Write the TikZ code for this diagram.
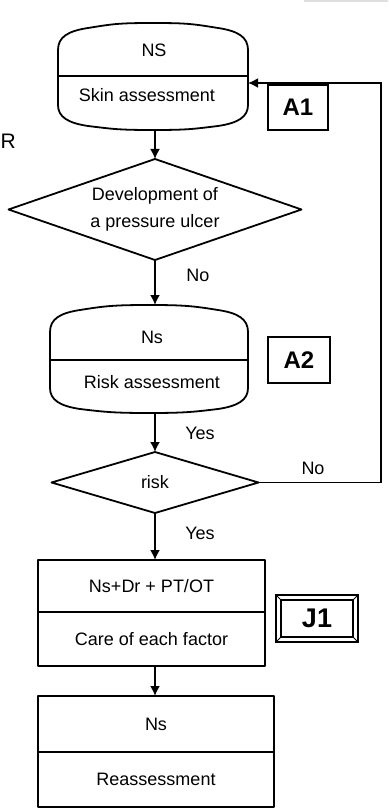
\documentclass[tikz,border=0pt]{standalone}
\usepackage{fontspec}
\setmainfont{Liberation Sans}
\usetikzlibrary{shapes.geometric,arrows.meta,calc}

% Outline of a drum-shaped step: flat sides, bulging top and bottom
\newcommand\drumoutline[1]{%
  \draw[outline]
    ($(#1.north west)+(0,27)$)
      .. controls ($(#1.north west)+(0,14)$) and ($(#1.north west)+(10,8)$) .. ($(#1.north west)+(30,5)$)
      .. controls ($(#1.north west)+(55,1)$) and ($(#1.north)+(-35,0)$) .. (#1.north)
      .. controls ($(#1.north)+(35,0)$) and ($(#1.north east)+(-55,1)$) .. ($(#1.north east)+(-30,5)$)
      .. controls ($(#1.north east)+(-10,8)$) and ($(#1.north east)+(0,14)$) .. ($(#1.north east)+(0,27)$)
    -- ($(#1.south east)+(0,-25)$)
      .. controls ($(#1.south east)+(0,-13)$) and ($(#1.south east)+(-10,-7)$) .. ($(#1.south east)+(-30,-4)$)
      .. controls ($(#1.south east)+(-55,-1)$) and ($(#1.south)+(35,0)$) .. (#1.south)
      .. controls ($(#1.south)+(-35,0)$) and ($(#1.south west)+(55,-1)$) .. ($(#1.south west)+(30,-4)$)
      .. controls ($(#1.south west)+(10,-7)$) and ($(#1.south west)+(0,-13)$) .. ($(#1.south west)+(0,-25)$)
    -- cycle;}

\tikzset{
  outline/.style={line width=1.8pt, line join=round},
  frame/.style={rectangle, inner sep=0pt, outer sep=0pt},
  txt/.style={font=\fontsize{18}{27}\selectfont, inner sep=0pt, align=center},
  decision/.style={diamond, draw, outline, inner sep=0pt, outer sep=0pt, align=center,
                   font=\fontsize{18}{27}\selectfont},
  boxpart/.style={rectangle, draw, outline, inner sep=0pt, outer sep=0pt,
                  font=\fontsize{18}{22}\selectfont},
  tag/.style={rectangle, draw, line width=1.8pt, inner sep=0pt, outer sep=0pt, font=\bfseries\fontsize{24}{28}\selectfont},
  flow/.style={line width=1.8pt, -{Latex[length=10pt,width=10pt]}},
  lbl/.style={font=\fontsize{18}{22}\selectfont, inner sep=0pt},
}

\begin{document}
\begin{tikzpicture}[x=1pt, y=-1pt]
\useasboundingbox (0,0) rectangle (388,810);

% faint rule along the top edge and the letter at the left margin
\draw[gray!25, line width=1.2pt] (304,1) -- (388,1);
\node[anchor=west, inner sep=0pt, font=\fontsize{21}{24}\selectfont] (edgeR) at (0.5,141) {R};

% skin assessment
\node[frame, minimum width=190pt, minimum height=107pt] (s1) at (153,76.5) {};
\drumoutline{s1}
\draw[outline] ($(s1.north west)+(0,53)$) -- ($(s1.north east)+(0,53)$);
\node[txt] (s1t) at (154,50) {NS};
\node[txt] (s1b) at (147,95) {Skin assessment};

\node[tag, minimum width=60pt, minimum height=45pt] (a1) at (298,107.5) {A1};

% first decision
\node[decision, shape aspect=2.9, minimum width=293pt, minimum height=101pt] (d1) at (155,209.5)
  {Development of\\a pressure ulcer};

% risk assessment
\node[frame, minimum width=198pt, minimum height=108pt] (s2) at (149,359) {};
\drumoutline{s2}
\draw[outline] ($(s2.north west)+(0,55)$) -- ($(s2.north east)+(0,55)$);
\node[txt] (s2t) at (152,337) {Ns};
\node[txt] (s2b) at (152,382) {Risk assessment};

\node[tag, minimum width=62pt, minimum height=46pt] (a2) at (299,360) {A2};

% risk decision
\node[decision, shape aspect=3.4, minimum width=207pt, minimum height=61pt] (r1) at (155,482.5) {risk};

% care of each factor
\node[boxpart, minimum width=227pt, minimum height=52pt] (b3a) at (151.5,586) {Ns+Dr + PT/OT};
\node[boxpart, minimum width=227pt, minimum height=54pt] (b3b) at (151.5,639) {Care of each factor};
\draw[line width=2.8pt] (b3a.south west) -- (b3a.south east);

% J1 tag with bevelled double frame
\node[tag, font=\bfseries\fontsize{27}{30}\selectfont, minimum width=82pt, minimum height=47pt] (j1) at (317,618.5) {J1};
\draw[line width=1.4pt] ($(j1.north west)+(5,5)$) rectangle ($(j1.south east)+(-5,-5)$);
\draw[line width=1pt]
  (j1.north west) -- ($(j1.north west)+(5,5)$)
  (j1.north east) -- ($(j1.north east)+(-5,5)$)
  (j1.south west) -- ($(j1.south west)+(5,-5)$)
  (j1.south east) -- ($(j1.south east)+(-5,-5)$);

% reassessment
\node[boxpart, minimum width=236pt, minimum height=56pt] (b4a) at (156,724) {Ns};
\node[boxpart, minimum width=236pt, minimum height=55pt] (b4b) at (156,779.5) {Reassessment};

% connectors
\coordinate (fb) at (381,83);
\draw[flow] (s1.south -| d1.north) -- (d1.north);
\draw[flow] (d1.south) -- (d1.south |- s2.north);
\draw[flow] (s2.south -| r1.north) -- (r1.north);
\draw[flow] (r1.south) -- (r1.south |- b3a.north);
\draw[flow] (b3b.south -| r1.south) -- (r1.south |- b4a.north);
\draw[flow] (r1.east) -- (r1.east -| fb) -- (fb) -- (s1.east |- fb);

% branch labels
\node[lbl] (no1) at (198,275) {No};
\node[lbl] (yes1) at (200,433) {Yes};
\node[lbl] (no2) at (313,468) {No};
\node[lbl] (yes2) at (200,533) {Yes};
\end{tikzpicture}
\end{document}
